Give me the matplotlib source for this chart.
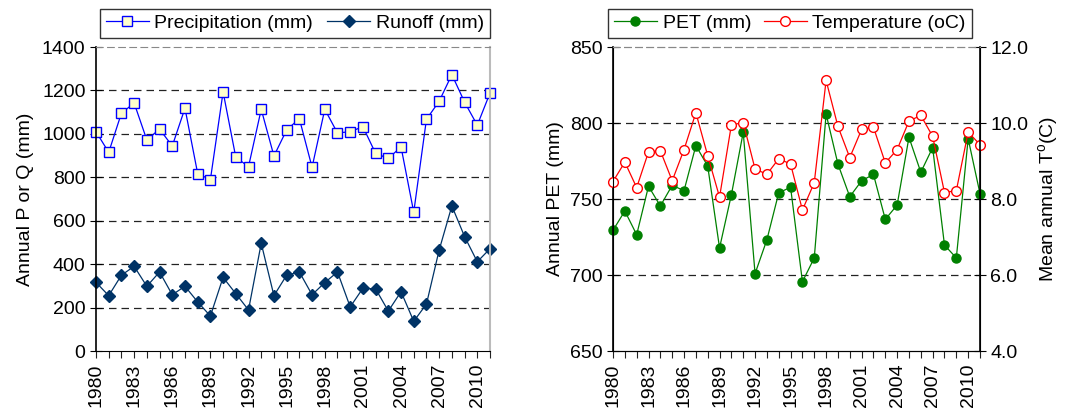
import matplotlib.pyplot as plt
import numpy as np

plt.rcParams['font.family'] = ['Liberation Sans', 'DejaVu Sans']
plt.rcParams['font.size'] = 14

years = np.arange(1980, 2012)

precip = [1010, 915, 1095, 1142, 972, 1022, 944, 1118, 817, 789,
          1193, 892, 849, 1113, 898, 1018, 1070, 846, 1113, 1004,
          1010, 1033, 910, 887, 940, 639, 1067, 1150, 1273, 1146,
          1040, 1188]
runoff = [316, 255, 349, 390, 298, 364, 259, 298, 226, 161,
          339, 264, 189, 496, 255, 349, 364, 259, 315, 364,
          203, 289, 286, 184, 273, 137, 216, 465, 668, 527,
          411, 471]
pet = [729.4, 742.1, 726.5, 758.4, 745.4, 759.0, 755.5, 785.1, 771.7, 717.8,
       752.8, 793.9, 700.9, 723.2, 754.1, 757.7, 695.6, 711.2, 805.9, 773.0,
       751.5, 762.0, 766.2, 736.6, 746.0, 790.6, 767.6, 783.8, 719.7, 711.2,
       789.7, 753.5]
temp = [8.46, 8.97, 8.30, 9.24, 9.27, 8.48, 9.30, 10.27, 9.14, 8.05,
        9.95, 10.01, 8.79, 8.65, 9.06, 8.92, 7.71, 8.43, 11.12, 9.91,
        9.09, 9.83, 9.89, 8.95, 9.30, 10.05, 10.20, 9.65, 8.17, 8.22,
        9.76, 9.43]

xlabels = years[::3]

fig = plt.figure(figsize=(10.75, 4.16), dpi=100)
ax1 = fig.add_axes([96/1075, 1-351/416, (490-96)/1075, (351-47)/416])
ax2 = fig.add_axes([613/1075, 1-351/416, (980-613)/1075, (351-47)/416])


def style_xaxis(ax):
    ax.set_xlim(1980, 2011)
    ax.set_xticks(years, minor=True)
    ax.set_xticks(xlabels)
    ax.set_xticklabels([str(y) for y in xlabels], rotation=90)
    ax.tick_params(axis='x', which='both', direction='out', length=5, width=0.8,
                   colors='#222222', labelcolor='black', pad=4)


# left panel: precipitation and runoff
for v in [200, 400, 600, 800, 1000, 1200]:
    ax1.axhline(v, color='#222222', lw=0.9, ls=(0, (6, 4)), zorder=0)
ax1.plot(years, precip, color='#0000FF', lw=0.9, marker='s', ms=7,
         mfc='#FFFFCC', mec='#0000FF', mew=1.0, label='Precipitation (mm)', clip_on=False)
ax1.plot(years, runoff, color='#003366', lw=0.9, marker='D', ms=6,
         mfc='#003366', mec='#003366', label='Runoff (mm)', clip_on=False)
ax1.set_ylim(0, 1400)
ax1.set_yticks(np.arange(0, 1401, 200))
ax1.set_ylabel('Annual P or Q (mm)', labelpad=6)
ax1.tick_params(axis='y', direction='inout', length=8, width=0.8)
style_xaxis(ax1)
ax1.spines['top'].set_linestyle((0, (6, 4)))
ax1.spines['top'].set_color('#888888')
ax1.spines['right'].set_color('#BBBBBB')
ax1.spines['right'].set_linewidth(1.5)
ax1.spines['left'].set_linewidth(1.2)
ax1.legend(loc='lower center', bbox_to_anchor=(0.01, 1.03, 0.99, 0.14), ncol=2,
           mode='expand', frameon=True, fancybox=False, edgecolor='black',
           handlelength=2.2, borderpad=0.3, handletextpad=0.3, columnspacing=1.2,
           borderaxespad=0)

# right panel: PET and temperature
ax3 = ax2.twinx()
for v in [700, 750, 800]:
    ax2.axhline(v, color='#222222', lw=0.9, ls=(0, (6, 4)), zorder=0)
l1, = ax2.plot(years, pet, color='#008000', lw=0.9, marker='o', ms=6.5,
               mfc='#008000', mec='#008000', label='PET (mm)', clip_on=False)
l2, = ax3.plot(years, temp, color='#FF0000', lw=0.9, marker='o', ms=7,
               mfc='white', mec='#FF0000', mew=1.0, label='Temperature (oC)', clip_on=False)
ax2.set_ylim(650, 850)
ax2.set_yticks([650, 700, 750, 800, 850])
ax2.set_ylabel('Annual PET (mm)')
ax3.set_ylim(4, 12)
ax3.set_yticks([4, 6, 8, 10, 12])
ax3.set_yticklabels(['4.0', '6.0', '8.0', '10.0', '12.0'])
ax3.set_ylabel('Mean annual T$^{\\mathregular{o}}$(C)', labelpad=6)
ax2.tick_params(axis='y', direction='inout', length=8, width=0.8)
ax3.tick_params(axis='y', direction='inout', length=8, width=0.8)
style_xaxis(ax2)
for a in (ax2, ax3):
    a.spines['top'].set_linestyle((0, (6, 4)))
    a.spines['top'].set_color('#888888')
ax2.spines['left'].set_linewidth(1.2)
ax3.spines['right'].set_linewidth(1.2)
ax2.legend(handles=[l1, l2], loc='lower center', bbox_to_anchor=(-0.013, 1.03, 0.99, 0.14),
           ncol=2, mode='expand', frameon=True, fancybox=False, edgecolor='black',
           handlelength=2.2, borderpad=0.3, handletextpad=0.3, columnspacing=1.2,
           borderaxespad=0)

fig.savefig('out.png', dpi=100)
